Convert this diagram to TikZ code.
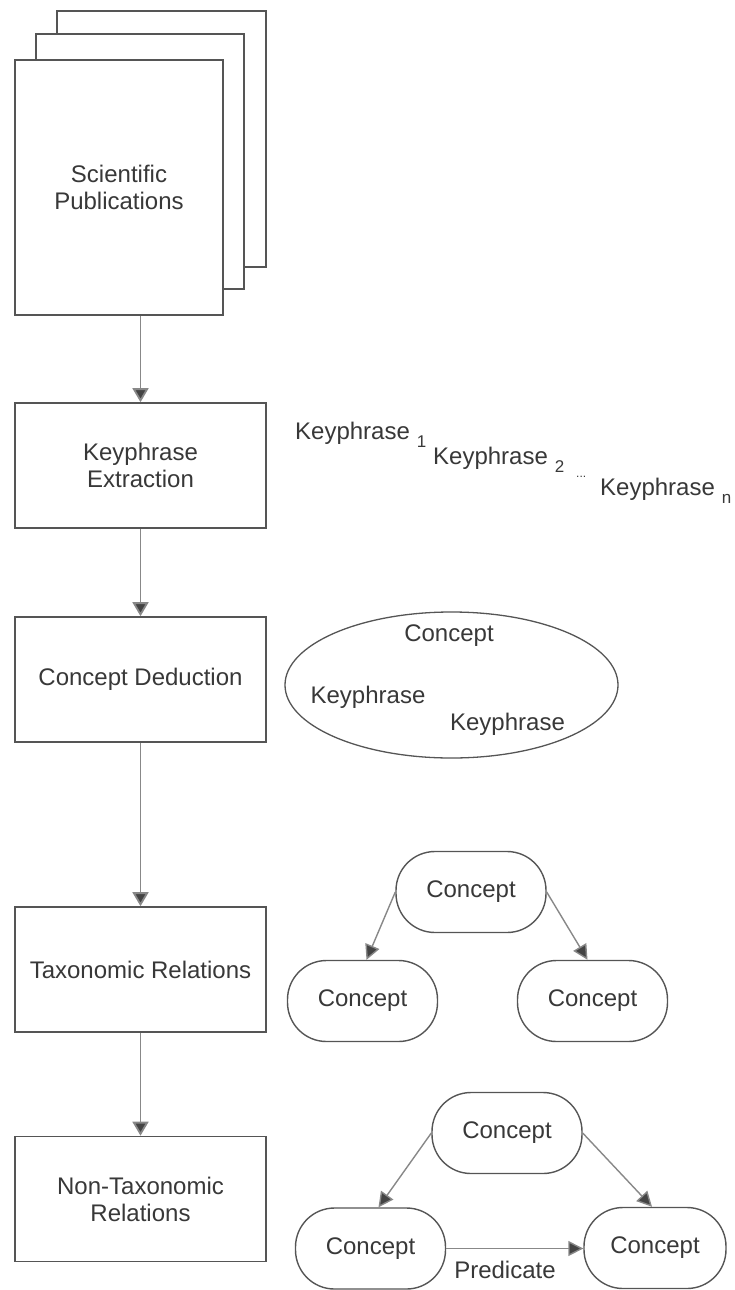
\documentclass[tikz,border=0pt]{standalone}
\usepackage{fontspec}
\setmainfont{Liberation Sans}
\usetikzlibrary{arrows.meta,shapes.geometric}
\definecolor{linegray}{HTML}{555555}
\definecolor{arrowgray}{HTML}{888888}
\definecolor{txtgray}{HTML}{383838}
\definecolor{headgray}{HTML}{444444}
\newcommand{\subtxt}[1]{\hspace{7pt}\raisebox{-8pt}{\fontsize{17}{17}\selectfont #1}}
\begin{document}
\begin{tikzpicture}[x=1pt,y=-1pt,
  every node/.style={font=\fontsize{24}{27}\selectfont, text=txtgray},
  stepbox/.style={draw=linegray, line width=1.6pt, fill=white, minimum width=251pt, minimum height=125pt, align=center, inner sep=0pt},
  docsheet/.style={draw=linegray, line width=1.6pt, fill=white},
  flow/.style={draw=arrowgray, line width=1.8pt, -{Triangle[width=16pt,length=14pt,fill=headgray]}},
  rel/.style={draw=arrowgray, line width=1.4pt, -{Triangle[width=15pt,length=15pt,fill=headgray]}},
  concept/.style={draw=linegray, line width=1.4pt, rounded corners=39pt, minimum width=150pt, minimum height=81pt, inner sep=0pt},
  plain/.style={inner sep=0pt, anchor=base west}
]
\useasboundingbox (0,0) rectangle (735,1290);

% publications stack
\draw[docsheet] (57,11) rectangle (266,267);
\draw[docsheet] (36,34) rectangle (244,289);
\node[stepbox, minimum width=208pt, minimum height=255pt] (pubs) at (119,187.5) {Scientific\\Publications};

% process steps
\node[stepbox] (ke) at (140.5,465.5) {Keyphrase\\Extraction};
\node[stepbox] (cd) at (140.5,679.5) {Concept Deduction};
\node[stepbox] (tr) at (140.5,969.5) {Taxonomic Relations};
\node[stepbox] (nt) at (140.5,1199) {Non-Taxonomic\\Relations};

\draw[flow] (pubs.south -| ke.north) -- (ke.north);
\draw[flow] (ke.south) -- (cd.north);
\draw[flow] (cd.south) -- (tr.north);
\draw[flow] (tr.south) -- (nt.north);

% keyphrases
\node[plain] (k1) at (295,439) {Keyphrase\subtxt{1}};
\node[plain] (k2) at (433,464) {Keyphrase\subtxt{2}};
\node[plain, font=\fontsize{12}{12}\selectfont] (dots) at (576,477) {...};
\node[plain] (kn) at (600,495) {Keyphrase\subtxt{n}};

% concept ellipse
\node[draw=linegray, line width=1.3pt, ellipse, minimum width=333pt, minimum height=146pt, inner sep=0pt] (ell) at (451.5,685) {};
\node (ec) at (449,636) {Concept};
\node (ek1) at (368,697) {Keyphrase};
\node (ek2) at (507.5,724) {Keyphrase};

% taxonomic tree
\node[concept] (t0) at (471,892) {Concept};
\node[concept] (t1) at (362.5,1001) {Concept};
\node[concept] (t2) at (592.5,1001) {Concept};
\draw[rel] (t0.west) -- ([xshift=4pt]t1.north);
\draw[rel] (t0.east) -- ([xshift=-5pt]t2.north);

% non-taxonomic tree
\node[concept] (n0) at (507,1133) {Concept};
\node[concept] (n1) at (370.5,1248.5) {Concept};
\node[concept, minimum width=142pt] (n2) at (655,1248) {Concept};
\draw[rel] (n0.west) -- ([xshift=8pt]n1.north);
\draw[rel] (n0.east) -- ([xshift=-3pt]n2.north);
\draw[rel] (n1.east) -- (n2.west |- n1.east);
\node (pred) at (505,1270) {Predicate};
\end{tikzpicture}
\end{document}
